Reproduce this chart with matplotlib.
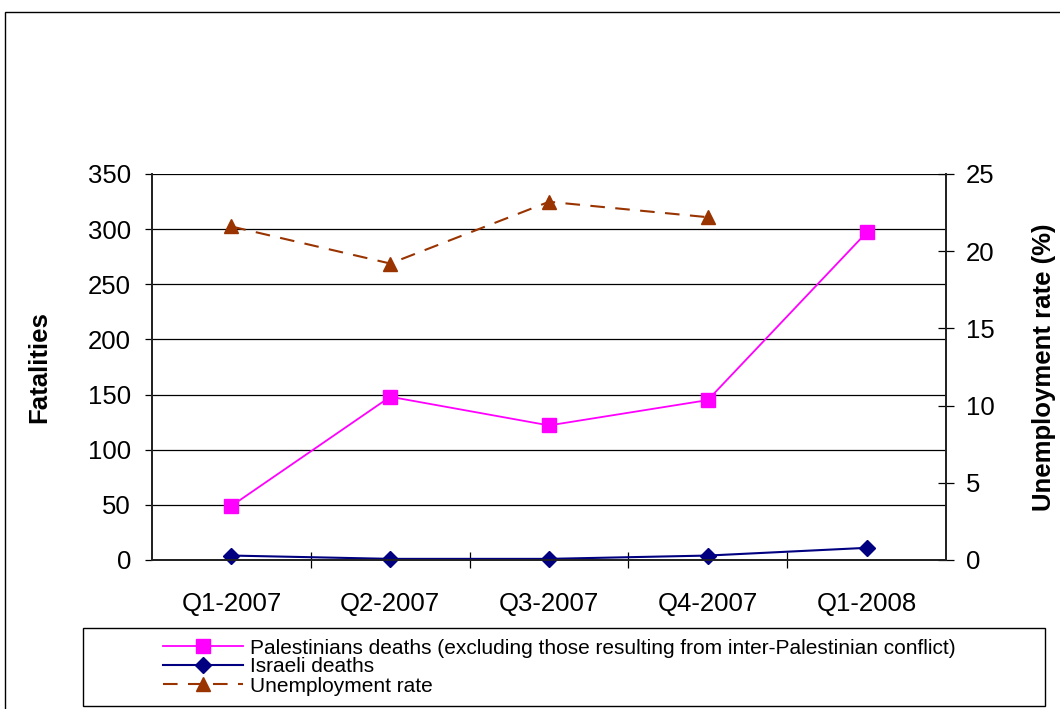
import matplotlib
matplotlib.use("Agg")
import matplotlib.pyplot as plt
from matplotlib.patches import Rectangle
from matplotlib.ticker import MultipleLocator, FixedLocator

plt.rcParams['font.family'] = ['Liberation Sans', 'DejaVu Sans']

# quarterly figures
quarters = ['Q1-2007', 'Q2-2007', 'Q3-2007', 'Q4-2007', 'Q1-2008']
palestinian_deaths = [49, 148, 122, 145, 297]
israeli_deaths = [4, 1, 1, 4, 11]
unemployment = [21.6, 19.2, 23.2, 22.2]

fig = plt.figure(figsize=(10.6, 7.09), dpi=100)
ax = fig.add_axes([0.1434, 0.2102, 0.7491, 0.5444])
ax2 = ax.twinx()

x = [i + 0.5 for i in range(len(quarters))]

ax.plot(x, palestinian_deaths, color='#FF00FF', lw=1.3, marker='s', ms=9.5,
        label='Palestinians deaths (excluding those resulting from inter-Palestinian conflict)',
        clip_on=False, zorder=4)
ax.plot(x, israeli_deaths, color='#000080', lw=1.5, marker='D', ms=8,
        label='Israeli deaths', clip_on=False, zorder=4)
ax2.plot(x[:len(unemployment)], unemployment, color='#993300', lw=1.5,
         ls=(0, (7, 5)), marker='^', ms=10.5, label='Unemployment rate',
         clip_on=False, zorder=4)

ax.set_xlim(0, 5)
ax.set_ylim(0, 350)
ax2.set_ylim(0, 25)
ax.yaxis.set_major_locator(MultipleLocator(50))
ax2.yaxis.set_major_locator(MultipleLocator(5))
ax.grid(axis='y', color='black', lw=0.9)
ax.set_axisbelow(True)

# category labels in the middle, ticks between categories
ax.xaxis.set_major_locator(FixedLocator(x))
ax.set_xticklabels(quarters)
ax.xaxis.set_minor_locator(FixedLocator([1, 2, 3, 4]))
ax.tick_params(axis='x', which='major', length=0, pad=23, labelsize=18.5)
ax.tick_params(axis='x', which='minor', length=11, direction='inout', width=0.9)
ax.tick_params(axis='y', length=5, width=0.9, pad=10, labelsize=18.5)
ax2.tick_params(axis='y', length=11, direction='inout', width=0.9, pad=9, labelsize=18.5)

for a in (ax, ax2):
    a.spines['top'].set_visible(False)
    for s in ('left', 'right', 'bottom'):
        a.spines[s].set_linewidth(1.3)
        a.spines[s].set_color('#222222')

ax.set_ylabel('Fatalities', fontsize=18.5, fontweight='bold')
ax.yaxis.set_label_coords(-0.127, 0.5)
ax2.set_ylabel('Unemployment rate (%)', fontsize=18.5, fontweight='bold')
ax2.yaxis.set_label_coords(1.108, 0.5)

# legend in a box below the chart
fig.patches.append(Rectangle((83 / 1060, 3 / 709), 962 / 1060, 78 / 709,
                             transform=fig.transFigure, fill=False,
                             edgecolor='black', lw=1.0))
h1, l1 = ax.get_legend_handles_labels()
h2, l2 = ax2.get_legend_handles_labels()
fig.legend(h1 + h2, l1 + l2, loc='center', bbox_to_anchor=(559 / 1060, 42 / 709),
           frameon=False, fontsize=15, handlelength=3.85, handletextpad=0.34,
           labelspacing=0.0, borderpad=0)

# outer frame
fig.patches.append(Rectangle((5 / 1060, -10 / 709), 1100 / 1060, 707 / 709,
                             transform=fig.transFigure, fill=False,
                             edgecolor='black', lw=1.0))

fig.savefig('out.png', dpi=100)
